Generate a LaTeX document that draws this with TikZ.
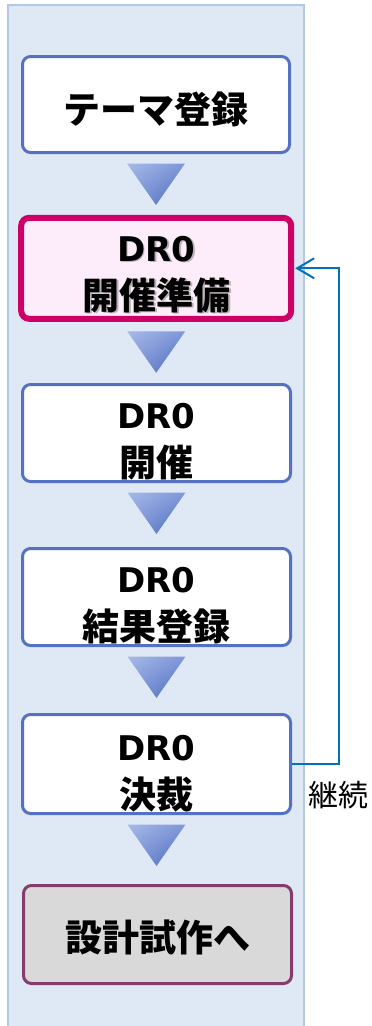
\documentclass[tikz,border=0pt]{standalone}
\usepackage{fontspec}
\setmainfont{Noto Sans CJK JP}
\newfontfamily\latinbold{DejaVu Sans}[BoldFont={DejaVu Sans Bold}]
\usetikzlibrary{calc,arrows.meta,shadings}
\definecolor{panelfill}{HTML}{DFE8F5}
\definecolor{panelline}{HTML}{B4C7E7}
\definecolor{boxblue}{HTML}{5572C2}
\definecolor{boxpink}{HTML}{CC0066}
\definecolor{pinkfill}{HTML}{FDEDFB}
\definecolor{boxpurple}{HTML}{843C6C}
\definecolor{grayfill}{HTML}{D9D9D9}
\definecolor{loopblue}{HTML}{0070C0}
\definecolor{trilight}{HTML}{A6B9E8}
\definecolor{trimid}{HTML}{7F98D8}
\definecolor{tridark}{HTML}{4A67BA}
\newcommand{\drz}{{\latinbold\fontsize{34}{48}\selectfont DR0}}
\tikzset{
  stagebox/.style={draw=boxblue, line width=3pt, fill=white, rounded corners=8pt,
    minimum width=268pt, minimum height=97pt, inner sep=0pt},
  activebox/.style={stagebox, draw=boxpink, fill=pinkfill, line width=6pt,
    minimum width=270pt, minimum height=101pt},
  endbox/.style={stagebox, draw=boxpurple, fill=grayfill},
  stagetext/.style={font=\fontsize{37}{48}\selectfont\bfseries, align=center, inner sep=0pt},
  shadowtext/.style={stagetext, text=black!45, opacity=0.6},
  flowtri/.style={upper left=trilight, upper right=trimid, lower left=trimid, lower right=tridark},
  loopline/.style={draw=loopblue, line width=2pt, -{Straight Barb[length=17pt,width=20pt]}}
}
\newcommand{\flowtriangle}[1]{%
  \shade[flowtri] ($(#1.south)+(-29,9.5)$) -- ($(#1.south)+(29,9.5)$) -- ($(#1.south)+(0,51)$) -- cycle;}
\begin{document}
\begin{tikzpicture}[x=1pt,y=-1pt]
\useasboundingbox (0,0) rectangle (372,1026);
\draw[fill=panelfill, draw=panelline, line width=1.5pt] (8,5) rectangle (304,1028);

\node[stagebox, minimum width=267pt, minimum height=96pt] (b1) at (156,104.5) {};
\node[stagetext] (t1) at ($(b1.center)+(0,5)$) {テーマ登録};

\node[activebox] (b2) at (156.2,268.3) {};
\node[shadowtext] (s2) at ($(b2.center)+(1.8,7.8)$) {\drz\\開催準備};
\node[stagetext] (t2) at ($(b2.center)+(0,6)$) {\drz\\開催準備};

\node[stagebox] (b3) at (156.5,433) {};
\node[stagetext] (t3) at ($(b3.center)+(0,9)$) {\drz\\開催};

\node[stagebox] (b4) at (156.5,597) {};
\node[stagetext] (t4) at ($(b4.center)+(0,9)$) {\drz\\結果登録};

\node[stagebox, minimum height=99pt] (b5) at (156.5,764) {};
\node[stagetext] (t5) at ($(b5.center)+(0,10)$) {\drz\\決裁};

\node[endbox, minimum height=98pt] (b6) at (157.5,934.5) {};
\node[stagetext] (t6) at ($(b6.center)+(0,3)$) {設計試作へ};

\flowtriangle{b1}
\flowtriangle{b2}
\flowtriangle{b3}
\flowtriangle{b4}
\flowtriangle{b5}

\coordinate (c1) at (339,764);
\coordinate (c2) at (339,268.3);
\draw[loopline] (b5.east) -- (c1) -- (c2) -- ($(b2.east)+(1,0)$);
\node[font=\fontsize{30}{36}\selectfont, anchor=center] (lbl) at (338,795) {継続};
\end{tikzpicture}
\end{document}
